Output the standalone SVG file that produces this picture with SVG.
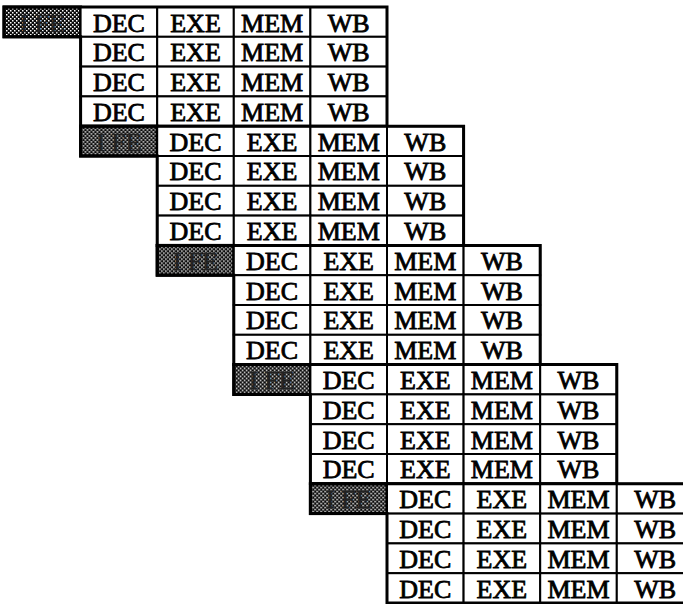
<svg xmlns="http://www.w3.org/2000/svg" width="683" height="604" viewBox="0 0 683 604">
<defs>
<pattern id="dither" width="4" height="4" patternUnits="userSpaceOnUse">
<rect width="4" height="4" fill="#0a0a0a"/>
<rect x="0" y="0" width="1.5" height="1.5" fill="#fff"/>
<rect x="2" y="2" width="1.5" height="1.5" fill="#fff"/>
</pattern>
<style>
.cell{fill:#fff;stroke:#000;stroke-width:2}
.ife{fill:url(#dither);stroke:#000;stroke-width:3}
.t{font-family:"Liberation Serif","Times New Roman",serif;font-size:26px;text-anchor:middle;fill:#000;stroke:#000;stroke-width:0.8}
.ti{font-family:"Liberation Serif","Times New Roman",serif;font-size:26px;text-anchor:middle;fill:#222;stroke:#222;stroke-width:0.4}
.outline{fill:none;stroke:#000;stroke-width:3}
</style>
</defs>
<rect width="683" height="604" fill="#fff"/>

<g id="block1" transform="translate(0,0)">
<g id="b1-ife"><rect class="ife" x="4" y="7" width="76.6" height="29.8"/><text class="ti" x="42.3" y="31.5">I FE</text></g>
<g id="b1-r1-dec"><rect class="cell" x="80.6" y="7" width="76.6" height="29.8"/><text class="t" x="118.9" y="31.5">DEC</text></g>
<g id="b1-r1-exe"><rect class="cell" x="157.2" y="7" width="76.6" height="29.8"/><text class="t" x="195.5" y="31.5">EXE</text></g>
<g id="b1-r1-mem"><rect class="cell" x="233.8" y="7" width="76.6" height="29.8"/><text class="t" x="272.1" y="31.5">MEM</text></g>
<g id="b1-r1-wb"><rect class="cell" x="310.4" y="7" width="76.6" height="29.8"/><text class="t" x="348.7" y="31.5">WB</text></g>
<g id="b1-r2-dec"><rect class="cell" x="80.6" y="36.8" width="76.6" height="29.8"/><text class="t" x="118.9" y="61.3">DEC</text></g>
<g id="b1-r2-exe"><rect class="cell" x="157.2" y="36.8" width="76.6" height="29.8"/><text class="t" x="195.5" y="61.3">EXE</text></g>
<g id="b1-r2-mem"><rect class="cell" x="233.8" y="36.8" width="76.6" height="29.8"/><text class="t" x="272.1" y="61.3">MEM</text></g>
<g id="b1-r2-wb"><rect class="cell" x="310.4" y="36.8" width="76.6" height="29.8"/><text class="t" x="348.7" y="61.3">WB</text></g>
<g id="b1-r3-dec"><rect class="cell" x="80.6" y="66.6" width="76.6" height="29.8"/><text class="t" x="118.9" y="91.1">DEC</text></g>
<g id="b1-r3-exe"><rect class="cell" x="157.2" y="66.6" width="76.6" height="29.8"/><text class="t" x="195.5" y="91.1">EXE</text></g>
<g id="b1-r3-mem"><rect class="cell" x="233.8" y="66.6" width="76.6" height="29.8"/><text class="t" x="272.1" y="91.1">MEM</text></g>
<g id="b1-r3-wb"><rect class="cell" x="310.4" y="66.6" width="76.6" height="29.8"/><text class="t" x="348.7" y="91.1">WB</text></g>
<g id="b1-r4-dec"><rect class="cell" x="80.6" y="96.4" width="76.6" height="29.8"/><text class="t" x="118.9" y="120.9">DEC</text></g>
<g id="b1-r4-exe"><rect class="cell" x="157.2" y="96.4" width="76.6" height="29.8"/><text class="t" x="195.5" y="120.9">EXE</text></g>
<g id="b1-r4-mem"><rect class="cell" x="233.8" y="96.4" width="76.6" height="29.8"/><text class="t" x="272.1" y="120.9">MEM</text></g>
<g id="b1-r4-wb"><rect class="cell" x="310.4" y="96.4" width="76.6" height="29.8"/><text class="t" x="348.7" y="120.9">WB</text></g>
<path class="outline" d="M4,7 H387 V126.2 H80.6 V36.8 H4 Z"/>
</g>

<g id="block2" transform="translate(76.6,119.2)">
<g id="b2-ife"><rect class="ife" x="4" y="7" width="76.6" height="29.8"/><text class="ti" x="42.3" y="31.5">I FE</text></g>
<g id="b2-r1-dec"><rect class="cell" x="80.6" y="7" width="76.6" height="29.8"/><text class="t" x="118.9" y="31.5">DEC</text></g>
<g id="b2-r1-exe"><rect class="cell" x="157.2" y="7" width="76.6" height="29.8"/><text class="t" x="195.5" y="31.5">EXE</text></g>
<g id="b2-r1-mem"><rect class="cell" x="233.8" y="7" width="76.6" height="29.8"/><text class="t" x="272.1" y="31.5">MEM</text></g>
<g id="b2-r1-wb"><rect class="cell" x="310.4" y="7" width="76.6" height="29.8"/><text class="t" x="348.7" y="31.5">WB</text></g>
<g id="b2-r2-dec"><rect class="cell" x="80.6" y="36.8" width="76.6" height="29.8"/><text class="t" x="118.9" y="61.3">DEC</text></g>
<g id="b2-r2-exe"><rect class="cell" x="157.2" y="36.8" width="76.6" height="29.8"/><text class="t" x="195.5" y="61.3">EXE</text></g>
<g id="b2-r2-mem"><rect class="cell" x="233.8" y="36.8" width="76.6" height="29.8"/><text class="t" x="272.1" y="61.3">MEM</text></g>
<g id="b2-r2-wb"><rect class="cell" x="310.4" y="36.8" width="76.6" height="29.8"/><text class="t" x="348.7" y="61.3">WB</text></g>
<g id="b2-r3-dec"><rect class="cell" x="80.6" y="66.6" width="76.6" height="29.8"/><text class="t" x="118.9" y="91.1">DEC</text></g>
<g id="b2-r3-exe"><rect class="cell" x="157.2" y="66.6" width="76.6" height="29.8"/><text class="t" x="195.5" y="91.1">EXE</text></g>
<g id="b2-r3-mem"><rect class="cell" x="233.8" y="66.6" width="76.6" height="29.8"/><text class="t" x="272.1" y="91.1">MEM</text></g>
<g id="b2-r3-wb"><rect class="cell" x="310.4" y="66.6" width="76.6" height="29.8"/><text class="t" x="348.7" y="91.1">WB</text></g>
<g id="b2-r4-dec"><rect class="cell" x="80.6" y="96.4" width="76.6" height="29.8"/><text class="t" x="118.9" y="120.9">DEC</text></g>
<g id="b2-r4-exe"><rect class="cell" x="157.2" y="96.4" width="76.6" height="29.8"/><text class="t" x="195.5" y="120.9">EXE</text></g>
<g id="b2-r4-mem"><rect class="cell" x="233.8" y="96.4" width="76.6" height="29.8"/><text class="t" x="272.1" y="120.9">MEM</text></g>
<g id="b2-r4-wb"><rect class="cell" x="310.4" y="96.4" width="76.6" height="29.8"/><text class="t" x="348.7" y="120.9">WB</text></g>
<path class="outline" d="M4,7 H387 V126.2 H80.6 V36.8 H4 Z"/>
</g>

<g id="block3" transform="translate(153.2,238.4)">
<g id="b3-ife"><rect class="ife" x="4" y="7" width="76.6" height="29.8"/><text class="ti" x="42.3" y="31.5">I FE</text></g>
<g id="b3-r1-dec"><rect class="cell" x="80.6" y="7" width="76.6" height="29.8"/><text class="t" x="118.9" y="31.5">DEC</text></g>
<g id="b3-r1-exe"><rect class="cell" x="157.2" y="7" width="76.6" height="29.8"/><text class="t" x="195.5" y="31.5">EXE</text></g>
<g id="b3-r1-mem"><rect class="cell" x="233.8" y="7" width="76.6" height="29.8"/><text class="t" x="272.1" y="31.5">MEM</text></g>
<g id="b3-r1-wb"><rect class="cell" x="310.4" y="7" width="76.6" height="29.8"/><text class="t" x="348.7" y="31.5">WB</text></g>
<g id="b3-r2-dec"><rect class="cell" x="80.6" y="36.8" width="76.6" height="29.8"/><text class="t" x="118.9" y="61.3">DEC</text></g>
<g id="b3-r2-exe"><rect class="cell" x="157.2" y="36.8" width="76.6" height="29.8"/><text class="t" x="195.5" y="61.3">EXE</text></g>
<g id="b3-r2-mem"><rect class="cell" x="233.8" y="36.8" width="76.6" height="29.8"/><text class="t" x="272.1" y="61.3">MEM</text></g>
<g id="b3-r2-wb"><rect class="cell" x="310.4" y="36.8" width="76.6" height="29.8"/><text class="t" x="348.7" y="61.3">WB</text></g>
<g id="b3-r3-dec"><rect class="cell" x="80.6" y="66.6" width="76.6" height="29.8"/><text class="t" x="118.9" y="91.1">DEC</text></g>
<g id="b3-r3-exe"><rect class="cell" x="157.2" y="66.6" width="76.6" height="29.8"/><text class="t" x="195.5" y="91.1">EXE</text></g>
<g id="b3-r3-mem"><rect class="cell" x="233.8" y="66.6" width="76.6" height="29.8"/><text class="t" x="272.1" y="91.1">MEM</text></g>
<g id="b3-r3-wb"><rect class="cell" x="310.4" y="66.6" width="76.6" height="29.8"/><text class="t" x="348.7" y="91.1">WB</text></g>
<g id="b3-r4-dec"><rect class="cell" x="80.6" y="96.4" width="76.6" height="29.8"/><text class="t" x="118.9" y="120.9">DEC</text></g>
<g id="b3-r4-exe"><rect class="cell" x="157.2" y="96.4" width="76.6" height="29.8"/><text class="t" x="195.5" y="120.9">EXE</text></g>
<g id="b3-r4-mem"><rect class="cell" x="233.8" y="96.4" width="76.6" height="29.8"/><text class="t" x="272.1" y="120.9">MEM</text></g>
<g id="b3-r4-wb"><rect class="cell" x="310.4" y="96.4" width="76.6" height="29.8"/><text class="t" x="348.7" y="120.9">WB</text></g>
<path class="outline" d="M4,7 H387 V126.2 H80.6 V36.8 H4 Z"/>
</g>

<g id="block4" transform="translate(229.8,357.6)">
<g id="b4-ife"><rect class="ife" x="4" y="7" width="76.6" height="29.8"/><text class="ti" x="42.3" y="31.5">I FE</text></g>
<g id="b4-r1-dec"><rect class="cell" x="80.6" y="7" width="76.6" height="29.8"/><text class="t" x="118.9" y="31.5">DEC</text></g>
<g id="b4-r1-exe"><rect class="cell" x="157.2" y="7" width="76.6" height="29.8"/><text class="t" x="195.5" y="31.5">EXE</text></g>
<g id="b4-r1-mem"><rect class="cell" x="233.8" y="7" width="76.6" height="29.8"/><text class="t" x="272.1" y="31.5">MEM</text></g>
<g id="b4-r1-wb"><rect class="cell" x="310.4" y="7" width="76.6" height="29.8"/><text class="t" x="348.7" y="31.5">WB</text></g>
<g id="b4-r2-dec"><rect class="cell" x="80.6" y="36.8" width="76.6" height="29.8"/><text class="t" x="118.9" y="61.3">DEC</text></g>
<g id="b4-r2-exe"><rect class="cell" x="157.2" y="36.8" width="76.6" height="29.8"/><text class="t" x="195.5" y="61.3">EXE</text></g>
<g id="b4-r2-mem"><rect class="cell" x="233.8" y="36.8" width="76.6" height="29.8"/><text class="t" x="272.1" y="61.3">MEM</text></g>
<g id="b4-r2-wb"><rect class="cell" x="310.4" y="36.8" width="76.6" height="29.8"/><text class="t" x="348.7" y="61.3">WB</text></g>
<g id="b4-r3-dec"><rect class="cell" x="80.6" y="66.6" width="76.6" height="29.8"/><text class="t" x="118.9" y="91.1">DEC</text></g>
<g id="b4-r3-exe"><rect class="cell" x="157.2" y="66.6" width="76.6" height="29.8"/><text class="t" x="195.5" y="91.1">EXE</text></g>
<g id="b4-r3-mem"><rect class="cell" x="233.8" y="66.6" width="76.6" height="29.8"/><text class="t" x="272.1" y="91.1">MEM</text></g>
<g id="b4-r3-wb"><rect class="cell" x="310.4" y="66.6" width="76.6" height="29.8"/><text class="t" x="348.7" y="91.1">WB</text></g>
<g id="b4-r4-dec"><rect class="cell" x="80.6" y="96.4" width="76.6" height="29.8"/><text class="t" x="118.9" y="120.9">DEC</text></g>
<g id="b4-r4-exe"><rect class="cell" x="157.2" y="96.4" width="76.6" height="29.8"/><text class="t" x="195.5" y="120.9">EXE</text></g>
<g id="b4-r4-mem"><rect class="cell" x="233.8" y="96.4" width="76.6" height="29.8"/><text class="t" x="272.1" y="120.9">MEM</text></g>
<g id="b4-r4-wb"><rect class="cell" x="310.4" y="96.4" width="76.6" height="29.8"/><text class="t" x="348.7" y="120.9">WB</text></g>
<path class="outline" d="M4,7 H387 V126.2 H80.6 V36.8 H4 Z"/>
</g>

<g id="block5" transform="translate(306.4,476.8)">
<g id="b5-ife"><rect class="ife" x="4" y="7" width="76.6" height="29.8"/><text class="ti" x="42.3" y="31.5">I FE</text></g>
<g id="b5-r1-dec"><rect class="cell" x="80.6" y="7" width="76.6" height="29.8"/><text class="t" x="118.9" y="31.5">DEC</text></g>
<g id="b5-r1-exe"><rect class="cell" x="157.2" y="7" width="76.6" height="29.8"/><text class="t" x="195.5" y="31.5">EXE</text></g>
<g id="b5-r1-mem"><rect class="cell" x="233.8" y="7" width="76.6" height="29.8"/><text class="t" x="272.1" y="31.5">MEM</text></g>
<g id="b5-r1-wb"><rect class="cell" x="310.4" y="7" width="76.6" height="29.8"/><text class="t" x="348.7" y="31.5">WB</text></g>
<g id="b5-r2-dec"><rect class="cell" x="80.6" y="36.8" width="76.6" height="29.8"/><text class="t" x="118.9" y="61.3">DEC</text></g>
<g id="b5-r2-exe"><rect class="cell" x="157.2" y="36.8" width="76.6" height="29.8"/><text class="t" x="195.5" y="61.3">EXE</text></g>
<g id="b5-r2-mem"><rect class="cell" x="233.8" y="36.8" width="76.6" height="29.8"/><text class="t" x="272.1" y="61.3">MEM</text></g>
<g id="b5-r2-wb"><rect class="cell" x="310.4" y="36.8" width="76.6" height="29.8"/><text class="t" x="348.7" y="61.3">WB</text></g>
<g id="b5-r3-dec"><rect class="cell" x="80.6" y="66.6" width="76.6" height="29.8"/><text class="t" x="118.9" y="91.1">DEC</text></g>
<g id="b5-r3-exe"><rect class="cell" x="157.2" y="66.6" width="76.6" height="29.8"/><text class="t" x="195.5" y="91.1">EXE</text></g>
<g id="b5-r3-mem"><rect class="cell" x="233.8" y="66.6" width="76.6" height="29.8"/><text class="t" x="272.1" y="91.1">MEM</text></g>
<g id="b5-r3-wb"><rect class="cell" x="310.4" y="66.6" width="76.6" height="29.8"/><text class="t" x="348.7" y="91.1">WB</text></g>
<g id="b5-r4-dec"><rect class="cell" x="80.6" y="96.4" width="76.6" height="29.8"/><text class="t" x="118.9" y="120.9">DEC</text></g>
<g id="b5-r4-exe"><rect class="cell" x="157.2" y="96.4" width="76.6" height="29.8"/><text class="t" x="195.5" y="120.9">EXE</text></g>
<g id="b5-r4-mem"><rect class="cell" x="233.8" y="96.4" width="76.6" height="29.8"/><text class="t" x="272.1" y="120.9">MEM</text></g>
<g id="b5-r4-wb"><rect class="cell" x="310.4" y="96.4" width="76.6" height="29.8"/><text class="t" x="348.7" y="120.9">WB</text></g>
<path class="outline" d="M4,7 H387 V126.2 H80.6 V36.8 H4 Z"/>
</g>
</svg>
